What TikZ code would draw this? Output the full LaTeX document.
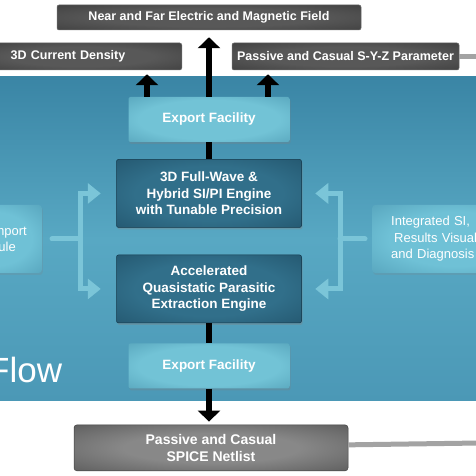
\documentclass[tikz,border=0pt]{standalone}
\usepackage{fontspec}
\setmainfont{Liberation Sans}
\usetikzlibrary{positioning,arrows.meta,shadows}
%
\newcommand{\nodedistance}{17pt}
%
\definecolor{bandtop}{HTML}{3A85A5}
\definecolor{bandmid}{HTML}{58A8C3}
\definecolor{bandbot}{HTML}{4B98B6}
\definecolor{outinner}{HTML}{585858}
\definecolor{outouter}{HTML}{303030}
\definecolor{outedge}{HTML}{6E6E6E}
\definecolor{spiceinner}{HTML}{888888}
\definecolor{spiceouter}{HTML}{424242}
\definecolor{expinner}{HTML}{72C3D6}
\definecolor{expouter}{HTML}{438EA8}
\definecolor{enginner}{HTML}{316F8A}
\definecolor{engouter}{HTML}{1A465C}
\definecolor{sideinner}{HTML}{6FC1D6}
\definecolor{sideouter}{HTML}{448EA9}
\definecolor{bracketcyan}{HTML}{7BC5D8}
\definecolor{feedgray}{HTML}{A3A3A3}
%
% Schattierungen der Kaesten (innen hell, Rand dunkel)
\pgfdeclareradialshading{outglow}{\pgfpoint{0bp}{0bp}}{%
  color(0bp)=(outinner); color(18bp)=(outinner); color(50bp)=(outouter); color(100bp)=(outouter)}
\pgfdeclareradialshading{spiceglow}{\pgfpoint{0bp}{0bp}}{%
  color(0bp)=(spiceinner); color(16bp)=(spiceinner); color(50bp)=(spiceouter); color(100bp)=(spiceouter)}
\pgfdeclareradialshading{expglow}{\pgfpoint{0bp}{0bp}}{%
  color(0bp)=(expinner); color(22bp)=(expinner); color(50bp)=(expouter); color(100bp)=(expouter)}
\pgfdeclareradialshading{engglow}{\pgfpoint{0bp}{0bp}}{%
  color(0bp)=(enginner); color(20bp)=(enginner); color(50bp)=(engouter); color(100bp)=(engouter)}
\pgfdeclareradialshading{sideglow}{\pgfpoint{0bp}{0bp}}{%
  color(0bp)=(sideinner); color(20bp)=(sideinner); color(50bp)=(sideouter); color(100bp)=(sideouter)}
%
\begin{document}
\begin{tikzpicture}[
	x=1pt, y=1pt,
	auto,
	node distance=\nodedistance,
	% Ausgabe-Kaesten (dunkelgrau)
	outbox/.style={rectangle, rounded corners=2pt, draw=outedge, line width=0.5pt,
		shade, shading=outglow, text=white, inner sep=0pt,
		font=\bfseries\fontsize{12.5}{15}\selectfont},
	spicebox/.style={rectangle, rounded corners=3pt, draw=black!75, line width=0.5pt,
		shade, shading=spiceglow, text=white, align=center,
		minimum width=274pt, minimum height=46pt, inner sep=2pt,
		font=\bfseries\fontsize{14}{16.5}\selectfont},
	% Kaesten im blauen Feld
	exportbox/.style={rectangle, rounded corners=2pt,
		shade, shading=expglow, text=white,
		minimum width=161pt, minimum height=45pt, inner sep=2pt,
		drop shadow={shadow xshift=1pt, shadow yshift=-2pt, opacity=0.3},
		font=\bfseries\fontsize{13.5}{16.5}\selectfont},
	enginebox/.style={rectangle, rounded corners=2pt, draw=engouter!80!black, line width=0.5pt,
		shade, shading=engglow, text=white, align=center,
		minimum width=185pt, minimum height=68pt, inner sep=2pt,
		drop shadow={shadow xshift=1pt, shadow yshift=-2pt, opacity=0.35},
		font=\bfseries\fontsize{13.5}{16.5}\selectfont},
	sidebox/.style={rectangle, rounded corners=3pt,
		shade, shading=sideglow, text=white,
		minimum height=68pt, inner ysep=2pt,
		drop shadow={shadow xshift=1pt, shadow yshift=-2pt, opacity=0.2},
		font=\fontsize{13}{16.5}\selectfont},
	% Verbindungen
	blackline/.style={draw=black, line width=6pt},
	blackarrow/.style={blackline, -{Triangle[width=22pt,length=11pt]}},
	bracketline/.style={draw=bracketcyan, line width=5pt},
	bracketarrow/.style={bracketline, -{Triangle[width=20pt,length=13pt]}},
	feedline/.style={draw=feedgray, line width=5pt}
]
%
\useasboundingbox (0,0) rectangle (476,476);
\clip (0,0) rectangle (476,476);
\fill[white] (0,0) rectangle (476,476);
%
% blaues Feld
\shade[top color=bandtop, bottom color=bandbot, middle color=bandmid]
    (0,75) rectangle (476,399);
%
\node(flow_title)%
    [anchor=base west, inner sep=0pt, text=white, font=\fontsize{35}{40}\selectfont]%
    at (-12pt,93pt)%
    {Flow};%
%
% Ausgaben oben
\node(out_field)%
    [outbox, minimum width=304pt, minimum height=25pt]%
    at (209pt,458.5pt)%
    {Near and Far Electric and Magnetic Field};%
\node(out_current)%
    [outbox, anchor=east, text width=202pt, align=left, minimum height=27pt]%
    at (182pt,419.5pt)%
    {\hspace*{31pt}3D Current Density};%
\node(out_syz)%
    [outbox, minimum width=227pt, minimum height=27pt]%
    at (345.5pt,419.5pt)%
    {Passive and Casual S-Y-Z Parameter};%
%
% Kette in der Mitte
\node(exp_top)%
    [exportbox]%
    at (209pt,356.5pt)%
    {Export Facility};%
\node(eng_fw)%
    [enginebox, below=of exp_top]%
    {3D Full-Wave \&\\Hybrid SI/PI Engine\\with Tunable Precision};%
\node(eng_qs)%
    [enginebox, below=27pt of eng_fw]%
    {Accelerated\\Quasistatic Parasitic\\Extraction Engine};%
\node(exp_bot)%
    [exportbox, below=20pt of eng_qs]%
    {Export Facility};%
\node(out_spice)%
    [spicebox, below=36pt of exp_bot, xshift=2pt]%
    {Passive and Casual\\SPICE Netlist};%
%
% Seiten
\node(in_import)%
    [sidebox, anchor=east, text width=70pt, align=right, inner xsep=15pt]%
    at (42pt,237pt)%
    {Import\\Module\hspace*{11pt}\null};%
\node(in_results)%
    [sidebox, anchor=west, text width=130pt, align=left, inner xsep=19pt]%
    at (372pt,237pt)%
    {Integrated SI,\\\hspace*{3pt}Results Visualization\\and Diagnosis};%
%
% schwarze Pfeile
\coordinate(arr_l) at ([xshift=-62pt]exp_top.north);%
\coordinate(arr_r) at ([xshift=59pt]exp_top.north);%
\draw[blackarrow, shorten >=7pt] (exp_top.north) -- (out_field.south);
\draw[blackarrow, shorten >=4pt] (arr_l) -- (arr_l |- out_current.south);
\draw[blackarrow, shorten >=4pt] (arr_r) -- (arr_r |- out_syz.south);
\draw[blackline] (exp_top.south) -- (eng_fw.north);
\draw[blackline] (eng_qs.south) -- (exp_bot.north);
\draw[blackarrow, shorten >=3pt] (exp_bot.south) -- (exp_bot.south |- out_spice.north);
%
% graue Leitungen nach rechts
\coordinate(syz_end) at (480pt,419.5pt);%
\coordinate(spice_end) at (480pt,33pt);%
\draw[feedline] (out_syz.east) -- (syz_end);
\draw[feedline] ([yshift=3pt]out_spice.east) -- (spice_end);
%
% Klammern links und rechts
\coordinate(lbar) at (80pt,237pt);%
\coordinate(rbar) at (340pt,237pt);%
\draw[bracketline, line cap=round] ([xshift=10pt]in_import.east) -- (lbar);
\draw[bracketarrow, shorten >=15.5pt] (lbar) |- (eng_fw.west);
\draw[bracketarrow, shorten >=15.5pt] (lbar) |- (eng_qs.west);
\draw[bracketline, line cap=round] ([xshift=-7pt]in_results.west) -- (rbar);
\draw[bracketarrow, shorten >=13.5pt] (rbar) |- (eng_fw.east);
\draw[bracketarrow, shorten >=13.5pt] (rbar) |- (eng_qs.east);
%
\end{tikzpicture}
\end{document}
